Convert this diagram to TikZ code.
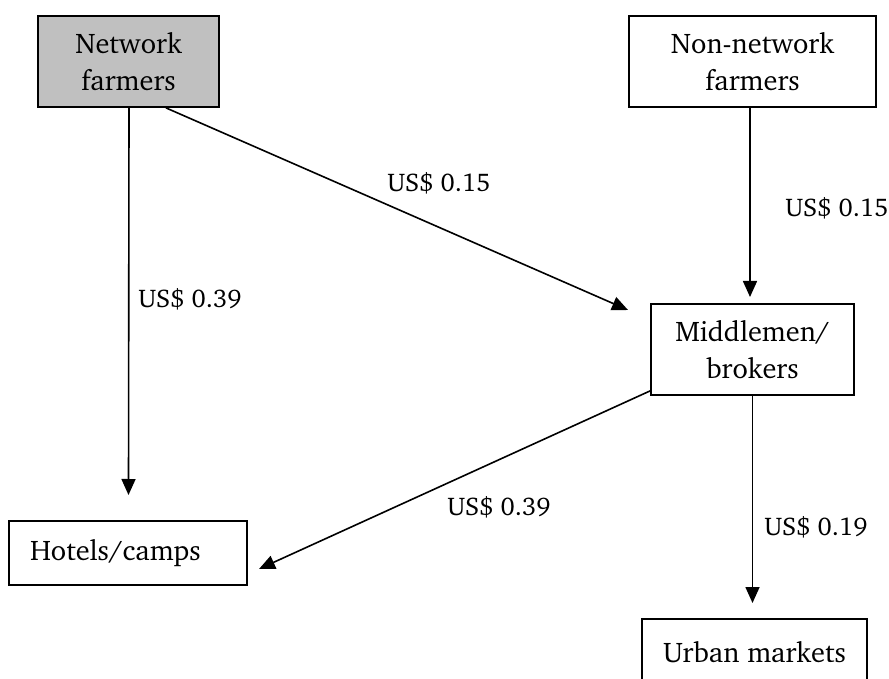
\documentclass[tikz,border=0pt]{standalone}
\usepackage[T1]{fontenc}
\renewcommand{\rmdefault}{bch}
\usetikzlibrary{arrows.meta}
\definecolor{boxgray}{RGB}{192,192,192}
\tikzset{
  actor/.style={draw, line width=0.9pt, align=center, inner sep=0pt,
    minimum height=45.5pt, font=\fontsize{14.2}{18.5}\selectfont},
  price/.style={anchor=base west, inner sep=0pt, font=\fontsize{12.8}{15}\selectfont},
  flow/.style={line width=0.8pt, -{Triangle[length=8pt, width=7pt]}}
}
\begin{document}
\begin{tikzpicture}[x=0.5pt, y=-0.5pt]
\path[use as bounding box, clip] (0,0) rectangle (889,679);
% boxes
\node[actor, fill=boxgray, minimum width=90.5pt] (net) at (128.5,61.5) {Network\\farmers};
\node[actor, minimum width=123.5pt] (nonnet) at (752.5,61.5) {Non-network\\farmers};
\node[actor, minimum width=101.5pt] (mid) at (752.5,349.5) {Middlemen/\\brokers};
\node[actor, minimum height=32pt, text width=98pt, inner xsep=10.5pt, align=left] (hotel) at (128,553) {Hotels/camps};
\node[actor, minimum height=33pt, minimum width=112.5pt] (urban) at (754.5,652) {Urban markets};
% arrow ends
\coordinate (hotelTip) at (128,495);
\coordinate (midTipA) at (628,310);
\coordinate (midTipB) at (750,297);
\coordinate (hotelTipB) at (259,569);
\coordinate (urbanTip) at (752,603);
% flows
\draw[flow] ([xshift=0.25pt]net.south) -- (net.south |- hotelTip);
\draw[flow] ([xshift=18.75pt]net.south) -- (midTipA);
\draw[flow] ([xshift=-1.25pt]nonnet.south) -- (midTipB);
\draw[flow] ([yshift=2.5pt]mid.south west) -- (hotelTipB);
\draw[flow] (mid.south) -- (mid.south |- urbanTip);
% prices
\node[price] (p1) at (138,307) {US\$ 0.39};
\node[price] (p2) at (387,192) {US\$ 0.15};
\node[price] (p3) at (785,217) {US\$ 0.15};
\node[price] (p4) at (447,515) {US\$ 0.39};
\node[price] (p5) at (764,535) {US\$ 0.19};
\end{tikzpicture}
\end{document}
